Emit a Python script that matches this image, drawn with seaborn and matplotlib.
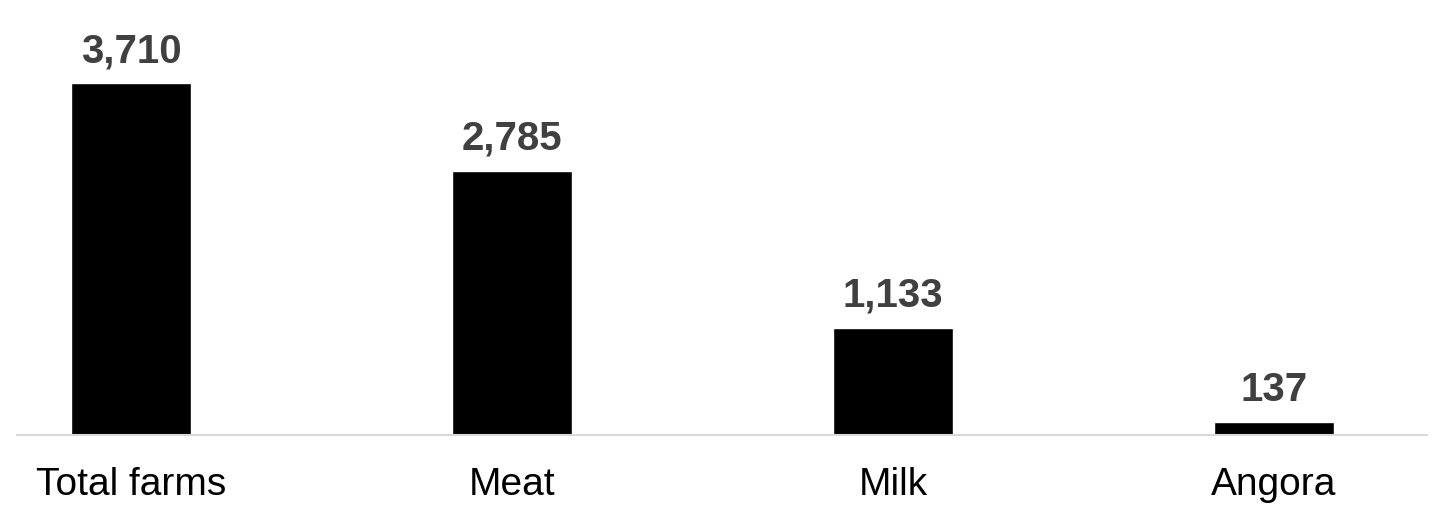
import matplotlib
matplotlib.use("Agg")
import matplotlib.pyplot as plt
import seaborn as sns
import pandas as pd

categories = ["Total farms", "Meat", "Milk", "Angora"]
farm_counts = [3710, 2785, 1133, 137]

sns.set_style("white")
plt.rcParams["font.family"] = ["Liberation Sans", "DejaVu Sans"]

df = pd.DataFrame({"category": categories, "farms": farm_counts})

fig = plt.figure(figsize=(14.5, 5.16), dpi=100)
ymax = 4000
px_per_unit = 352 / 3710
ax_h = ymax * px_per_unit
ax = fig.add_axes([17 / 1450, 81 / 516, 1410 / 1450, ax_h / 516])

sns.barplot(data=df, x="category", y="farms", color="black", width=0.315,
            saturation=1, ax=ax)

for i, v in enumerate(farm_counts):
    ax.annotate(f"{v:,}", (i, v), xytext=(0, 15), textcoords="offset points",
                ha="center", va="baseline", fontsize=29, fontweight="bold",
                color="#404040", annotation_clip=False)

ax.set_xlim(-0.299, 3.402)
ax.set_ylim(0, ymax)
ax.set_xlabel("")
ax.set_ylabel("")
ax.set_yticks([])
ax.tick_params(axis="x", length=0, pad=23, labelsize=28, labelcolor="black")
for side in ["top", "left", "right"]:
    ax.spines[side].set_visible(False)
ax.spines["bottom"].set_color("#d9d9d9")
ax.spines["bottom"].set_linewidth(1.5)

fig.savefig("out.png", dpi=100)
